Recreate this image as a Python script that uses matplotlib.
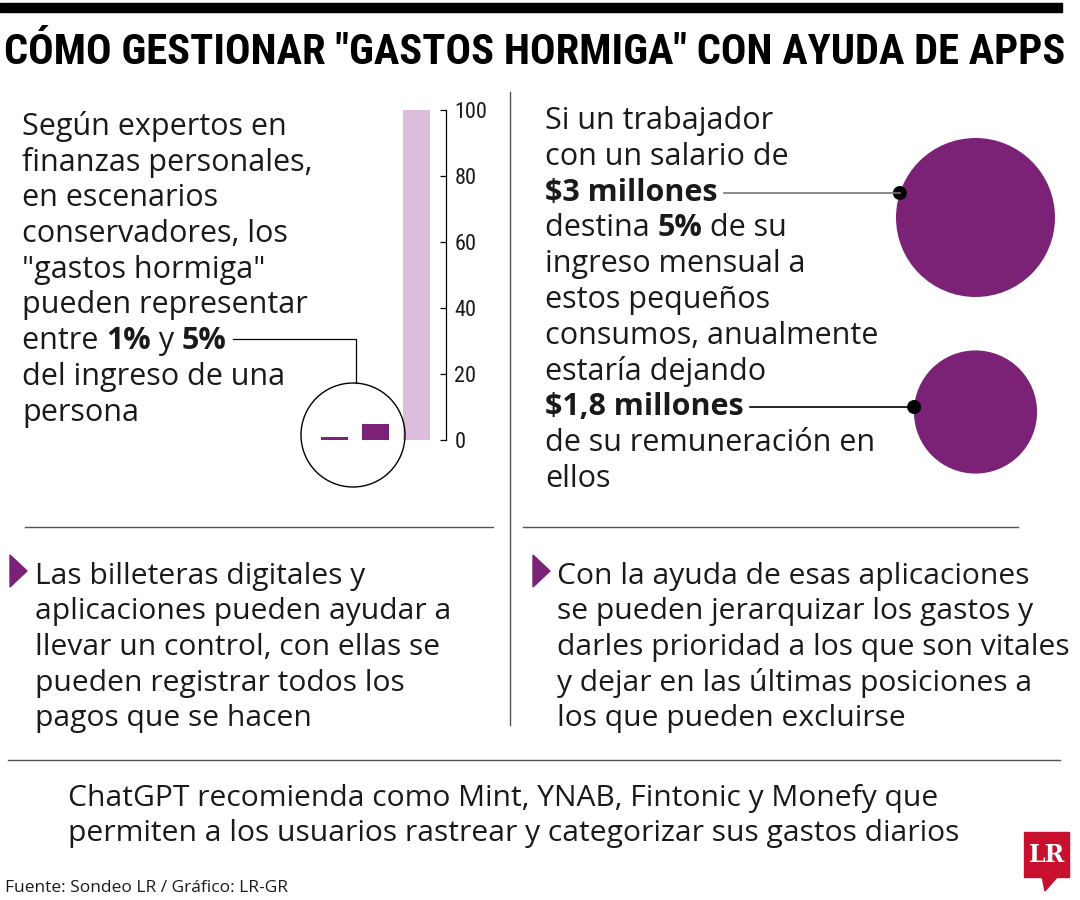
import matplotlib
matplotlib.use("Agg")
import matplotlib.pyplot as plt
from matplotlib import font_manager
from matplotlib.patches import Ellipse, Polygon, Rectangle

W, H = 1080, 900

# data
share_labels = ["1%", "5%", "100%"]
share_values = [1, 5, 100]
axis_ticks = [0, 20, 40, 60, 80, 100]
salary_labels = ["$3 millones", "$1,8 millones"]
salary_values = [3.0, 1.8]

title = 'CÓMO GESTIONAR "GASTOS HORMIGA" CON AYUDA DE APPS'
left_lines = [
    [("Según expertos en", False)],
    [("finanzas personales,", False)],
    [("en escenarios", False)],
    [("conservadores, los", False)],
    [('"gastos hormiga"', False)],
    [("pueden representar", False)],
    [("entre ", False), ("1%", True), (" y ", False), ("5%", True)],
    [("del ingreso de una", False)],
    [("persona", False)],
]
right_lines = [
    [("Si un trabajador", False)],
    [("con un salario de", False)],
    [("$3 millones", True)],
    [("destina ", False), ("5%", True), (" de su", False)],
    [("ingreso mensual a", False)],
    [("estos pequeños", False)],
    [("consumos, anualmente", False)],
    [("estaría dejando", False)],
    [("$1,8 millones", True)],
    [("de su remuneración en", False)],
    [("ellos", False)],
]
apps_left = ["Las billeteras digitales y", "aplicaciones pueden ayudar a",
             "llevar un control, con ellas se", "pueden registrar todos los",
             "pagos que se hacen"]
apps_right = ["Con la ayuda de esas aplicaciones", "se pueden jerarquizar los gastos y",
              "darles prioridad a los que son vitales", "y dejar en las últimas posiciones a",
              "los que pueden excluirse"]
footer = ["ChatGPT recomienda como Mint, YNAB, Fintonic y Monefy que",
          "permiten a los usuarios rastrear y categorizar sus gastos diarios"]
source = "Fuente: Sondeo LR / Gráfico: LR-GR"

PURPLE = "#7b2277"
LIGHT = "#dcbedc"
INK = "#1a1a1a"

names = {f.name for f in font_manager.fontManager.ttflist}


def pick(*cands):
    for c in cands:
        if c in names:
            return c
    return "DejaVu Sans"


BODY = pick("Open Sans", "Lato", "Noto Sans")
NARROW = pick("Liberation Sans Narrow", "Roboto Condensed", "DejaVu Sans")


def fx(x):
    return x / W


def fy(y):
    return 1 - y / H


fig = plt.figure(figsize=(W / 100, H / 100), dpi=100)
renderer = fig.canvas.get_renderer()


def rich_line(x, y, parts, size):
    for s, bold in parts:
        t = fig.text(fx(x), fy(y), s, fontsize=size, family=BODY, color=INK,
                     weight="bold" if bold else "normal", va="baseline", ha="left")
        x += t.get_window_extent(renderer).width
    return x


def hline(x0, x1, y, color="#555555", lw=1.0):
    fig.add_artist(plt.Line2D([fx(x0), fx(x1)], [fy(y), fy(y)], color=color, lw=lw))


def vline(x, y0, y1, color="#555555", lw=1.0):
    fig.add_artist(plt.Line2D([fx(x), fx(x)], [fy(y0), fy(y1)], color=color, lw=lw))


def disc(cx, cy, r, **kw):
    fig.add_artist(Ellipse((fx(cx), fy(cy)), 2 * r / W, 2 * r / H, transform=fig.transFigure, **kw))


# header
fig.add_artist(Rectangle((0, fy(12)), fx(1062), 9 / H, color="black", transform=fig.transFigure))
fig.text(fx(4), fy(64), title, fontsize=30.6, weight="bold", family=NARROW,
         fontstretch="condensed", color="black", va="baseline")

# left block
BS = 22
ends = [rich_line(22, 135 + i * 35.7, ln, BS) for i, ln in enumerate(left_lines)]

ax = fig.add_axes([fx(300), fy(500), 200 / W, 410 / H])
ax.set_xlim(300, 500)
ax.set_ylim(-60 / 3.3, 100 + 20 / 3.3)
ax.bar([334.5, 375.5, 416.5], share_values, width=27,
       color=[PURPLE, PURPLE, LIGHT], bottom=0)
for s in ["left", "top", "bottom"]:
    ax.spines[s].set_visible(False)
ax.spines["right"].set_position(("data", 446))
ax.spines["right"].set_bounds(0, 100)
ax.spines["right"].set_linewidth(0.9)
ax.yaxis.tick_right()
ax.set_yticks(axis_ticks)
ax.set_yticklabels([str(t) for t in axis_ticks], family=NARROW, fontstretch="condensed",
                   fontsize=16, color=INK)
ax.tick_params(axis="y", direction="in", length=4, pad=6, width=0.9)
ax.set_xticks([])
ax.patch.set_visible(False)

disc(353, 435, 52, fill=False, ec="black", lw=1)
y_lead = 339
fig.add_artist(plt.Line2D([fx(ends[6] + 6), fx(356), fx(356)],
                          [fy(y_lead), fy(y_lead), fy(383)], color="black", lw=0.9))

# right block
ends_r = [rich_line(545, 129 + i * 35.8, ln, BS) for i, ln in enumerate(right_lines)]
r0 = 79.5
cy_list = [217.5, 412]
dot_y = [193, 407]
ln_idx = [2, 8]
for v, cy, dy, li, col in zip(salary_values, cy_list, dot_y, ln_idx, ["#777777", "black"]):
    r = r0 * (v / salary_values[0]) ** 0.5
    disc(975.5, cy, r, color=PURPLE, lw=0)
    dx = 975.5 - (r ** 2 - (dy - cy) ** 2) ** 0.5
    hline(ends_r[li] + 6, dx, dy, color=col, lw=1.2)
    disc(dx, dy, 7, color="black", lw=0)

# dividers
vline(510, 92, 725)
hline(25, 493, 527)
hline(523, 1018, 527)
hline(8, 1060, 760)

# app blocks
for x_tri, x_txt, lines in [(10, 35, apps_left), (533, 557, apps_right)]:
    fig.add_artist(Polygon([(fx(x_tri), fy(555)), (fx(x_tri), fy(587)), (fx(x_tri + 17), fy(571))],
                           closed=True, color=PURPLE, transform=fig.transFigure))
    for i, s in enumerate(lines):
        rich_line(x_txt, 584 + i * 35.5, [(s, False)], 21.6)

for i, s in enumerate(footer):
    rich_line(68, 806 + i * 34.5, [(s, False)], 21.6)

fig.text(fx(5), fy(892), source, fontsize=12.5, family=BODY, color=INK, va="baseline")

# logo
fig.add_artist(Rectangle((fx(1024), fy(877)), 45 / W, 45 / H, color="#c8102e", transform=fig.transFigure))
fig.add_artist(Polygon([(fx(1042), fy(876)), (fx(1058), fy(876)), (fx(1045), fy(891))],
                       closed=True, color="#c8102e", transform=fig.transFigure))
fig.text(fx(1046.5), fy(855), "LR", fontsize=17, weight="bold", family="DejaVu Serif",
         color="white", ha="center", va="center")

fig.savefig("out.png", dpi=100, facecolor="white")
